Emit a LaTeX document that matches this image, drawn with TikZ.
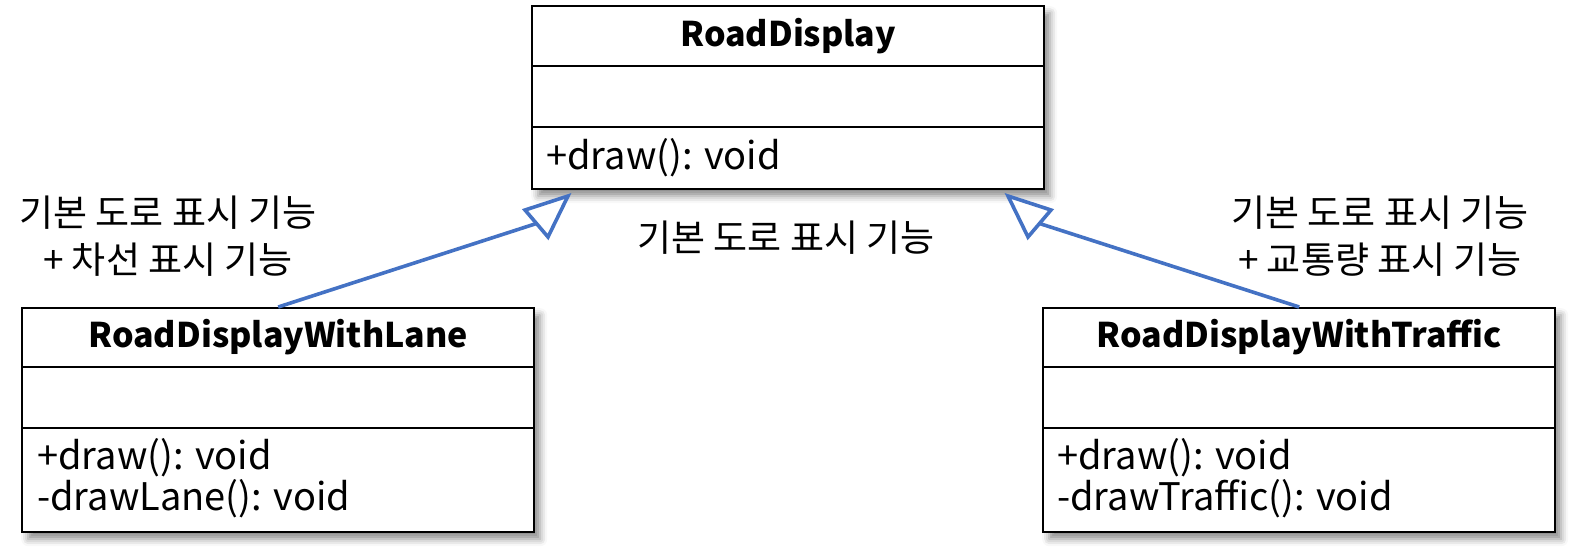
\documentclass[tikz,border=0pt]{standalone}
\usepackage{fontspec}
\setmainfont{Noto Sans CJK KR}
\usetikzlibrary{shadows.blur}
\definecolor{connblue}{HTML}{4472C4}
\tikzset{
  classbox/.style={draw=black, line width=2.4pt, fill=white, rectangle, anchor=north west,
    minimum width=512pt, inner sep=0pt,
    blur shadow={shadow xshift=6pt, shadow yshift=-7pt, shadow blur radius=7pt, shadow opacity=45}},
  divider/.style={draw=black, line width=2.4pt},
  titletext/.style={font=\fontsize{34}{40}\selectfont\bfseries, inner sep=0pt},
  methodtext/.style={font=\fontsize{38}{42}\selectfont, inner sep=0pt, anchor=west},
  labeltext/.style={font=\fontsize{37}{47}\selectfont, inner sep=0pt, align=center},
  conn/.style={draw=connblue, line width=3.6pt},
  connhead/.style={draw=connblue, line width=3.6pt, fill=white, line join=miter},
}
\begin{document}
\begin{tikzpicture}[x=1pt,y=-1pt]
\useasboundingbox (0,0) rectangle (1575,554);
% classes
\node[classbox, minimum height=183pt] (rd) at (531,5) {};
\node[classbox, minimum height=224pt] (lane) at (21,307) {};
\node[classbox, minimum height=224pt] (traffic) at (1042,307) {};
% dividers
\draw[divider] (rd.west |- 0,66) -- (rd.east |- 0,66);
\draw[divider] (rd.west |- 0,127) -- (rd.east |- 0,127);
\draw[divider] (lane.west |- 0,367) -- (lane.east |- 0,367);
\draw[divider] (lane.west |- 0,428) -- (lane.east |- 0,428);
\draw[divider] (traffic.west |- 0,367) -- (traffic.east |- 0,367);
\draw[divider] (traffic.west |- 0,428) -- (traffic.east |- 0,428);
% texts
\node[titletext] (rdT) at (rd.center |- 0,36) {RoadDisplay};
\node[methodtext] (rdM1) at (546,158) {+draw(): void};
\node[titletext] (laneT) at (lane.center |- 0,337) {RoadDisplayWithLane};
\node[methodtext] (laneM1) at (37,458) {+draw(): void};
\node[methodtext] (laneM2) at (37,499) {-drawLane(): void};
\node[titletext] (trafficT) at (traffic.center |- 0,337) {RoadDisplayWithTraffic};
\node[methodtext] (trafficM1) at (1057,458) {+draw(): void};
\node[methodtext] (trafficM2) at (1057,499) {-drawTraffic(): void};
% labels
\node[labeltext] (lblL) at (168,236) {기본 도로 표시 기능\\+ 차선 표시 기능};
\node[labeltext] (lblM) at (786,238) {기본 도로 표시 기능};
\node[labeltext] (lblR) at (1380,236) {기본 도로 표시 기능\\+ 교통량 표시 기능};
% connectors
\coordinate (lbase) at (536.5,223.5);
\coordinate (ltip) at (568,196);
\coordinate (lc1) at (525,210);
\coordinate (lc2) at (548,237);
\coordinate (rbase) at (1039.5,223.5);
\coordinate (rtip) at (1008,196);
\coordinate (rc1) at (1051,210);
\coordinate (rc2) at (1028,237);
\draw[conn] (lane.north) -- (lbase);
\draw[connhead] (ltip) -- (lc1) -- (lc2) -- cycle;
\draw[conn] (traffic.north) -- (rbase);
\draw[connhead] (rtip) -- (rc1) -- (rc2) -- cycle;
\end{tikzpicture}
\end{document}
